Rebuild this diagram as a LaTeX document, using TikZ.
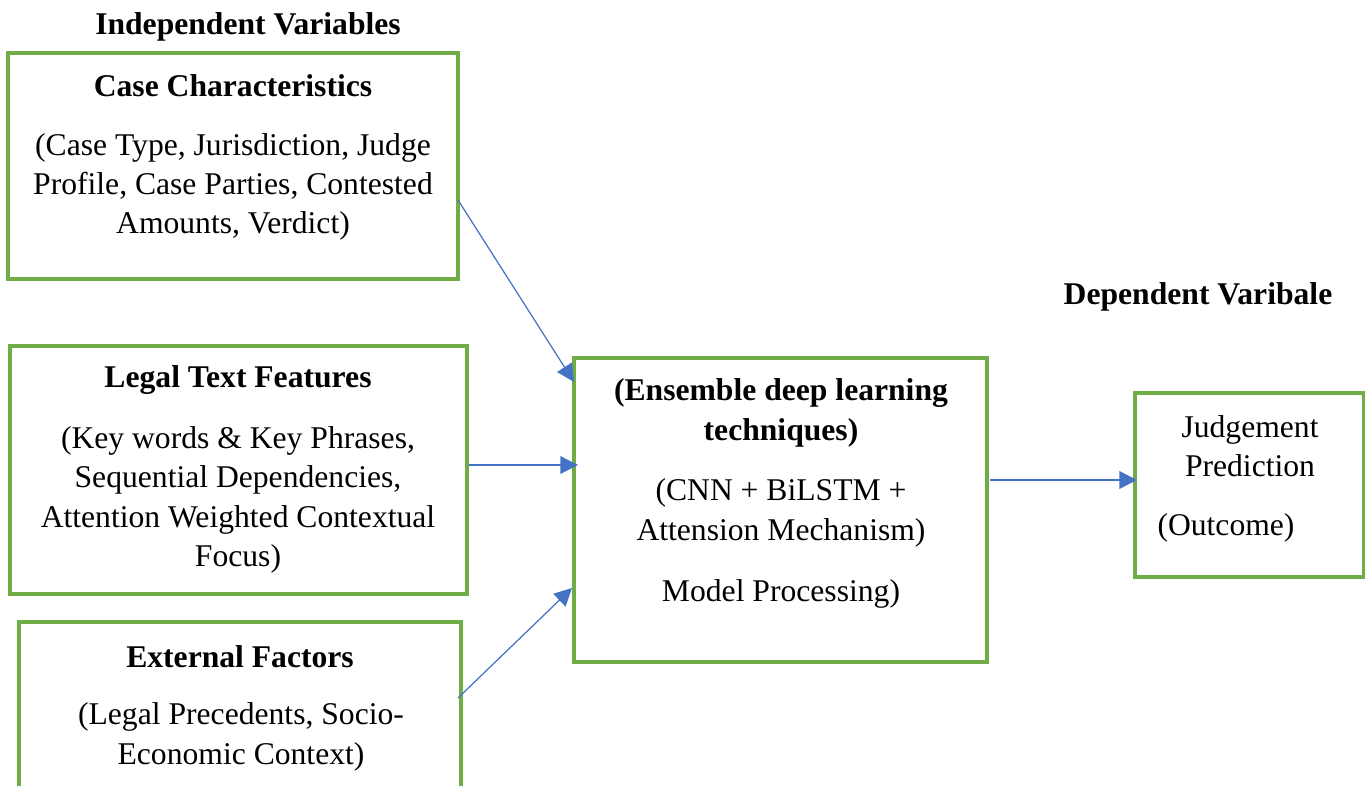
\documentclass[tikz,border=0pt]{standalone}
\usepackage{fontspec}
\setmainfont{Liberation Serif}
\usepackage{tikz}
\usetikzlibrary{arrows.meta}
\usetikzlibrary{fit}
\usetikzlibrary{positioning}

\definecolor{boxGreen}{HTML}{70AD47}
\definecolor{arrowBlue}{HTML}{4472C4}

\begin{document}
\begin{tikzpicture}[
  x=0.02cm, y=-0.02cm,
  % every coordinate is a pixel of the original sketch
  varText/.style={font=\fontsize{18}{22.4}\selectfont, align=center, inner sep=0pt},
  varHead/.style={varText, font=\fontsize{18}{22.4}\selectfont\bfseries},
  flowArrow/.style={draw=arrowBlue, line width=0.7pt, -{Triangle[length=10pt,width=10pt]}},
]

\tikzset{
  varBox/.style 2 args={
    draw=boxGreen, line width=1.9pt,
    rectangle,
    fit={(#1) (#2)},
    inner sep=0pt
  }
}

\useasboundingbox (0,0) rectangle (1365,786);

% --- headings ---
\node[varHead] (indepHead) at (248,27) {Independent Variables};
\node[varHead] (depHead) at (1198,297) {Dependent Varibale};

% --- independent variable boxes ---
\node[varBox={8,53}{458,279}] (caseBox) {};
\node[varHead] (caseTitle) at (233,86) {Case Characteristics};
\node[varText] (caseBody) at (233,187) {(Case Type, Jurisdiction, Judge\\Profile, Case Parties, Contested\\Amounts, Verdict)};

\node[varBox={10,346}{467,594}] (textBox) {};
\node[varHead] (textTitle) at (238,380) {Legal Text Features};
\node[varText] (textBody) at (238,500) {(Key words \& Key Phrases,\\Sequential Dependencies,\\Attention Weighted Contextual\\Focus)};

\node[varBox={19,622}{461,840}] (extBox) {};
\node[varHead] (extTitle) at (240,657) {External Factors};
\node[varText] (extBody) at (241,737) {(Legal Precedents, Socio-\\Economic Context)};

% --- model box ---
\node[varBox={574,358}{987,662}] (modelBox) {};
\node[varHead] (modelTitle) at (781,413) {(Ensemble deep learning\\techniques)};
\node[varText] (modelBody) at (781,513) {(CNN + BiLSTM +\\Attension Mechanism)};
\node[varText] (modelProc) at (781,594) {Model Processing)};

% --- dependent variable box ---
\node[varBox={1135,393}{1364,577}] (judgeBox) {};
\node[varText] (judgeTitle) at (1250,446) {Judgement\\Prediction};
\node[varText] (judgeOut) at (1226,528) {(Outcome)};

% --- arrows ---
\coordinate (caseOut) at (458,200);
\coordinate (textOut) at (469,465);
\coordinate (extOut) at (458,698);
\coordinate (modelOut) at (990,480);
\coordinate (caseIn) at (574,382);
\coordinate (textIn) at (578,465);
\coordinate (extIn) at (572,588);
\coordinate (judgeIn) at (1137,480);

\draw[flowArrow] (caseOut) -- (caseIn);
\draw[flowArrow] (textOut) -- (textIn);
\draw[flowArrow] (extOut) -- (extIn);
\draw[flowArrow] (modelOut) -- (judgeIn);

\end{tikzpicture}
\end{document}
